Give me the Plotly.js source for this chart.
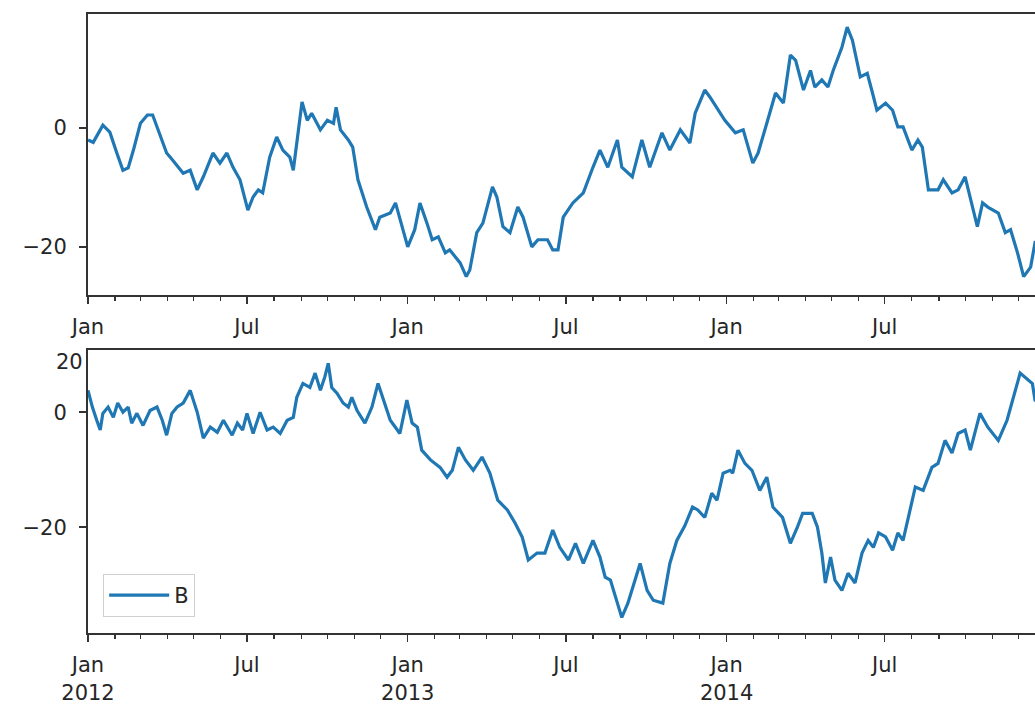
<!DOCTYPE html>
<html>
<head>
<meta charset="utf-8">
<script src="https://cdn.plot.ly/plotly-3.0.1.min.js"></script>
<style>
  html, body { margin: 0; padding: 0; background: #ffffff; overflow: hidden; }
  #chart { width: 1035px; height: 713px; }
</style>
</head>
<body>
<div id="chart"></div>
<script>
// ---- Series A (top panel) ----
const datesA = [
  '2012-01-01','2012-01-07','2012-01-18','2012-01-26','2012-02-03','2012-02-10','2012-02-16','2012-02-22',
  '2012-03-01','2012-03-09','2012-03-15','2012-03-20','2012-03-31','2012-04-07','2012-04-19','2012-04-27',
  '2012-05-05','2012-05-12','2012-05-23','2012-05-31','2012-06-08','2012-06-15','2012-06-23','2012-07-02',
  '2012-07-08','2012-07-14','2012-07-19','2012-07-27','2012-08-04','2012-08-11','2012-08-19','2012-08-23',
  '2012-08-27','2012-09-02','2012-09-08','2012-09-13','2012-09-23','2012-10-01','2012-10-08','2012-10-11',
  '2012-10-16','2012-10-25','2012-10-30','2012-11-05','2012-11-15','2012-11-25','2012-11-30','2012-12-12',
  '2012-12-18','2012-12-26','2013-01-01','2013-01-09','2013-01-15','2013-01-23','2013-01-29','2013-02-05',
  '2013-02-13','2013-02-18','2013-02-24','2013-03-02','2013-03-09','2013-03-13','2013-03-21','2013-03-28',
  '2013-04-08','2013-04-13','2013-04-20','2013-04-28','2013-05-07','2013-05-13','2013-05-23','2013-05-30',
  '2013-06-10','2013-06-16','2013-06-22','2013-06-28','2013-07-09','2013-07-21','2013-08-01','2013-08-09',
  '2013-08-18','2013-08-29','2013-09-03','2013-09-15','2013-09-26','2013-10-05','2013-10-19','2013-10-28',
  '2013-11-09','2013-11-18','2013-11-20','2013-11-26','2013-12-07','2013-12-13','2013-12-22','2013-12-30',
  '2014-01-11','2014-01-20','2014-01-31','2014-02-06','2014-02-16','2014-02-26','2014-03-07','2014-03-15',
  '2014-03-21','2014-03-30','2014-04-07','2014-04-12','2014-04-20','2014-04-27','2014-05-03','2014-05-13',
  '2014-05-19','2014-05-25','2014-06-03','2014-06-11','2014-06-17','2014-06-22','2014-07-02','2014-07-10',
  '2014-07-16','2014-07-22','2014-08-01','2014-08-08','2014-08-13','2014-08-20','2014-08-31','2014-09-06',
  '2014-09-16','2014-09-23','2014-10-01','2014-10-07','2014-10-15','2014-10-21','2014-10-27','2014-11-08',
  '2014-11-16','2014-11-22','2014-11-30','2014-12-07','2014-12-15','2014-12-20','2014-12-26'
];
const valuesA = [
  -2.0,-2.4,0.5,-0.7,-4.2,-7.1,-6.7,-3.7,
  0.8,2.2,2.2,0.2,-4.2,-5.4,-7.6,-7.1,
  -10.4,-8.2,-4.2,-5.9,-4.2,-6.6,-8.7,-13.8,
  -11.6,-10.4,-10.9,-4.9,-1.5,-3.7,-4.9,-7.1,
  -2.5,4.4,1.3,2.5,-0.3,1.3,0.8,3.5,
  -0.3,-2.0,-3.2,-8.7,-13.3,-17.1,-15.0,-14.3,
  -12.6,-17.1,-20.0,-17.1,-12.6,-16.0,-18.8,-18.3,
  -21.0,-20.5,-21.7,-22.7,-25.0,-23.9,-17.6,-16.0,
  -9.9,-11.6,-16.6,-17.6,-13.3,-15.0,-20.0,-18.8,
  -18.8,-20.5,-20.5,-15.0,-12.6,-10.9,-6.6,-3.7,
  -6.6,-2.0,-6.6,-8.2,-2.0,-6.6,-0.8,-3.7,
  -0.3,-2.0,-2.5,2.5,6.4,5.2,3.0,1.3,
  -0.8,-0.3,-5.9,-4.2,0.8,5.9,4.2,12.3,
  11.4,6.4,9.7,6.9,8.1,6.9,9.7,13.6,
  17.0,14.8,8.6,9.2,5.9,3.0,4.2,3.0,
  0.2,0.2,-3.7,-2.0,-3.2,-10.4,-10.4,-8.7,
  -10.9,-10.4,-8.2,-11.6,-16.6,-12.6,-13.3,-14.3,
  -17.6,-17.1,-21.0,-25.0,-23.4,-19.3,-19.7
];

// ---- Series B (bottom panel) ----
const datesB = [
  '2012-01-01','2012-01-06','2012-01-11','2012-01-15','2012-01-18','2012-01-24','2012-01-30','2012-02-04',
  '2012-02-10','2012-02-16','2012-02-20','2012-02-26','2012-03-04','2012-03-12','2012-03-20','2012-03-26',
  '2012-03-31','2012-04-06','2012-04-12','2012-04-19','2012-04-27','2012-05-05','2012-05-12','2012-05-20',
  '2012-05-28','2012-06-04','2012-06-14','2012-06-20','2012-06-26','2012-07-01','2012-07-08','2012-07-16',
  '2012-07-24','2012-07-31','2012-08-08','2012-08-16','2012-08-23','2012-08-27','2012-09-03','2012-09-11',
  '2012-09-17','2012-09-23','2012-09-28','2012-10-02','2012-10-06','2012-10-12','2012-10-19','2012-10-25',
  '2012-10-29','2012-11-04','2012-11-13','2012-11-21','2012-11-28','2012-12-04','2012-12-12','2012-12-23',
  '2012-12-31','2013-01-06','2013-01-12','2013-01-17','2013-01-27','2013-02-07','2013-02-15','2013-02-21',
  '2013-02-28','2013-03-08','2013-03-17','2013-03-27','2013-04-05','2013-04-14','2013-04-25','2013-05-04',
  '2013-05-12','2013-05-19','2013-05-29','2013-06-07','2013-06-16','2013-06-24','2013-07-04','2013-07-12',
  '2013-07-21','2013-08-01','2013-08-09','2013-08-15','2013-08-21','2013-08-29','2013-09-03','2013-09-10',
  '2013-09-24','2013-10-02','2013-10-09','2013-10-20','2013-10-28','2013-11-05','2013-11-14','2013-11-23',
  '2013-11-29','2013-12-07','2013-12-15','2013-12-21','2013-12-28','2014-01-05','2014-01-08','2014-01-14',
  '2014-01-22','2014-01-30','2014-02-08','2014-02-16','2014-02-23','2014-03-06','2014-03-15','2014-03-23',
  '2014-03-29','2014-04-09','2014-04-15','2014-04-20','2014-04-24','2014-04-30','2014-05-05','2014-05-13',
  '2014-05-20','2014-05-28','2014-06-05','2014-06-12','2014-06-18','2014-06-24','2014-07-02','2014-07-10',
  '2014-07-16','2014-07-22','2014-08-05','2014-08-14','2014-08-24','2014-08-31','2014-09-08','2014-09-16',
  '2014-09-23','2014-10-01','2014-10-07','2014-10-18','2014-10-27','2014-11-08','2014-11-18','2014-12-03',
  '2014-12-09','2014-12-17','2014-12-20','2014-12-26'
];
const valuesB = [
  3.8,0.9,-1.4,-3.1,-0.2,0.9,-0.9,1.6,
  0.0,0.9,-1.9,-0.2,-2.3,0.3,0.9,-1.4,
  -4.0,-0.2,0.9,1.6,3.8,0.0,-4.5,-2.6,
  -3.5,-1.4,-4.0,-1.9,-3.1,-0.2,-3.7,0.0,
  -3.1,-2.6,-3.7,-1.4,-0.9,2.6,5.0,4.3,
  6.8,3.8,6.1,8.5,4.3,3.3,1.6,0.9,
  2.6,0.3,-1.9,0.9,5.0,2.1,-1.4,-3.7,
  2.1,-1.9,-2.6,-6.6,-8.3,-9.6,-11.3,-10.1,
  -6.1,-8.3,-10.1,-7.8,-10.6,-15.3,-17.0,-19.3,
  -21.7,-25.7,-24.5,-24.5,-20.5,-23.5,-25.7,-22.8,
  -26.3,-22.3,-25.2,-28.7,-29.2,-33.2,-35.7,-33.2,
  -26.3,-31.0,-32.7,-33.2,-26.3,-22.3,-19.8,-16.5,
  -17.0,-18.3,-14.1,-15.3,-10.6,-10.1,-10.6,-6.6,
  -8.9,-10.1,-13.6,-11.3,-16.5,-18.3,-22.8,-20.0,
  -17.6,-17.6,-20.0,-24.5,-29.7,-25.2,-29.2,-31.0,
  -28.0,-29.7,-24.5,-22.3,-23.5,-21.0,-21.7,-24.0,
  -21.0,-22.3,-13.0,-13.6,-9.6,-8.9,-4.9,-7.1,
  -3.7,-3.1,-6.6,-0.2,-2.6,-4.9,-1.4,6.8,
  6.1,5.0,2.1,1.5
];

// ---- Tick labels ----
const majorTickDates = ['2012-01-01','2012-07-01','2013-01-01','2013-07-01','2014-01-01','2014-07-01'];
const topTickText = ['Jan','Jul','Jan','Jul','Jan','Jul'];
const bottomTickText = ['Jan<br>2012','Jul','Jan<br>2013','Jul','Jan<br>2014','Jul'];
const yTickVals = [-20, 0];
const yTickText = ['−20', '0'];
const xRange = ['2012-01-01', '2014-12-20'];
const seriesNames = ['A', 'B'];

const lineColor = '#1f77b4';
const axisColor = '#333333';
const textColor = '#262626';
const fontFamily = 'DejaVu Sans, sans-serif';

const xCommon = {
  type: 'date',
  range: xRange,
  tickmode: 'array',
  tickvals: majorTickDates,
  ticks: 'outside',
  ticklen: 7,
  tickwidth: 1.5,
  tickcolor: axisColor,
  showline: true,
  mirror: true,
  linecolor: axisColor,
  linewidth: 2,
  showgrid: false,
  zeroline: false,
  ticklabelstandoff: 5,
  tickfont: { family: fontFamily, size: 21, color: textColor },
  minor: { dtick: 'M1', tick0: '2012-01-01', ticks: 'outside', ticklen: 4, tickwidth: 1.2, tickcolor: axisColor, showgrid: false }
};
const yCommon = {
  tickmode: 'array',
  tickvals: yTickVals,
  ticktext: yTickText,
  ticks: 'outside',
  ticklen: 7,
  tickwidth: 1.5,
  tickcolor: axisColor,
  showline: true,
  mirror: false,
  linecolor: axisColor,
  linewidth: 2,
  showgrid: false,
  zeroline: false,
  ticklabelstandoff: 8,
  tickfont: { family: fontFamily, size: 21, color: textColor }
};

const traces = [
  { x: datesA, y: valuesA, name: seriesNames[0], type: 'scatter', mode: 'lines',
    line: { color: lineColor, width: 3.2 }, xaxis: 'x', yaxis: 'y', showlegend: false },
  { x: datesB, y: valuesB, name: seriesNames[1], type: 'scatter', mode: 'lines',
    line: { color: lineColor, width: 3.2 }, xaxis: 'x2', yaxis: 'y2', showlegend: true }
];

const layout = {
  width: 1035, height: 713,
  margin: { l: 88, r: 0, t: 14, b: 80 },
  paper_bgcolor: '#ffffff',
  plot_bgcolor: '#ffffff',
  font: { family: fontFamily, size: 21, color: textColor },
  xaxis: Object.assign({}, xCommon, { ticktext: topTickText, anchor: 'y', domain: [0, 1] }),
  yaxis: Object.assign({}, yCommon, { range: [-28.1, 19.2], domain: [0.546, 1], anchor: 'x' }),
  xaxis2: Object.assign({}, xCommon, { ticktext: bottomTickText, anchor: 'y2', domain: [0, 1] }),
  yaxis2: Object.assign({}, yCommon, { range: [-38.4, 10.8], domain: [0, 0.457], anchor: 'x2' }),
  legend: {
    x: 0.016, y: 0.026, xanchor: 'left', yanchor: 'bottom',
    itemwidth: 60,
    bgcolor: 'rgba(255,255,255,0.8)', bordercolor: '#d0d0d0', borderwidth: 1,
    font: { family: fontFamily, size: 21, color: textColor }
  },
  annotations: [
    { text: '20', xref: 'paper', yref: 'paper', x: -0.003, y: 0.438, xanchor: 'right', yanchor: 'middle',
      showarrow: false, font: { family: fontFamily, size: 21, color: textColor } }
  ]
};

Plotly.newPlot('chart', traces, layout, { staticPlot: true, displayModeBar: false });
</script>
</body>
</html>
